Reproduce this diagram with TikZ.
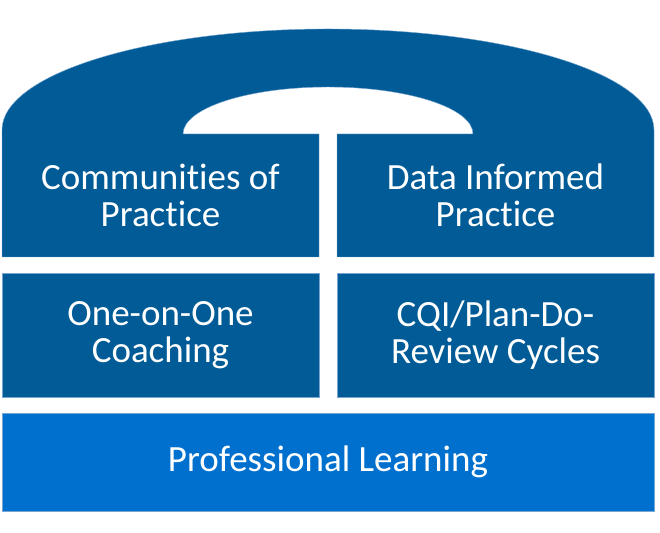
\documentclass[tikz,border=0pt]{standalone}
\usepackage{fontspec}
\setmainfont{Carlito}[Ligatures=NoCommon]
\usepackage{tikz}
\usetikzlibrary{positioning}
\definecolor{domeblue}{RGB}{0,91,150}
\definecolor{baseblue}{RGB}{0,112,206}
\definecolor{edgeblue}{RGB}{120,165,210}

\begin{document}
\begin{tikzpicture}[x=1pt,y=1pt,
  pillar/.style={fill=domeblue,draw=edgeblue,line width=0.4pt,
                 minimum width=317pt,minimum height=124pt,inner sep=0pt},
  pillartext/.style={text=white,align=center,font=\fontsize{37}{37}\selectfont},
  base/.style={fill=baseblue,draw=edgeblue,line width=0.4pt,
               minimum width=652pt,minimum height=98pt,inner sep=0pt}
]
\useasboundingbox (0,0) rectangle (660,532);

% dome joined with the two upper pillars
\fill[domeblue,draw=edgeblue,line width=0.4pt]
  (2,275) -- (2,402) arc[start angle=180,end angle=0,x radius=326,y radius=101]
  -- (654,275) -- (337,275) -- (337,398) -- (473,398)
  arc[start angle=0,end angle=180,x radius=145,y radius=47]
  -- (319,398) -- (319,275) -- cycle;

\node[pillartext] (cop) at (160.5,336.5) {Communities of\\Practice};
\node[pillartext] (dip) at (495.5,336.5) {Data Informed\\Practice};
\node[pillar,pillartext] (coach) at (160.5,197) {One-on-One\\Coaching};
\node[pillar,pillartext] (cqi) at (495.5,197) {CQI/Plan-Do-\\Review Cycles};
\node[base,pillartext] (pl) at (328,70) {Professional Learning};
\end{tikzpicture}
\end{document}
